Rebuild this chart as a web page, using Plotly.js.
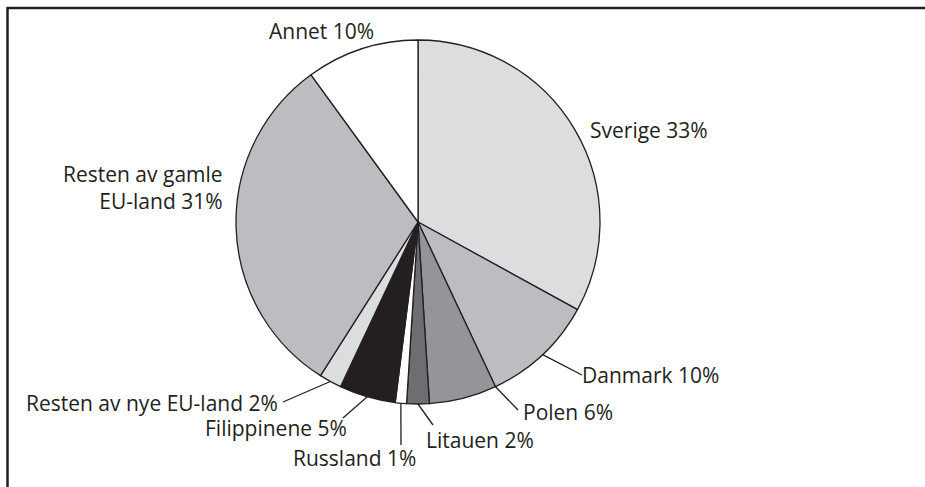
<!DOCTYPE html>
<html>
<head>
<meta charset="utf-8">
<script src="https://cdn.plot.ly/plotly-3.0.1.min.js"></script>
<style>html,body{margin:0;padding:0;background:#fff;}#chart{width:925px;height:487px;}</style>
</head>
<body>
<div id="chart"></div>
<script>
// Data
const labels = ['Sverige', 'Danmark', 'Polen', 'Litauen', 'Russland', 'Filippinene', 'Resten av nye EU-land', 'Resten av gamle EU-land', 'Annet'];
const values = [33, 10, 6, 2, 1, 5, 2, 31, 10];
const colors = ['#dcdddf', '#bcbdc0', '#939598', '#6d6e71', '#ffffff', '#231f20', '#dcdddf', '#bcbdc0', '#ffffff'];

// Layout geometry (pixels)
const W = 925, H = 487;
const CX = 418, CY = 222, R = 182;
const ink = '#231f20';
const fontFam = '"Open Sans", "Noto Sans", sans-serif';
const fs = 21;

// Label placement (pixels): x, y of text, anchor, optional leader end, optional line break
const labelCfg = [
  {x: 588, y: 130, anchor: 'left'},
  {x: 580, y: 375, anchor: 'left', lineEnd: [582, 375]},
  {x: 521, y: 412, anchor: 'left', lineEnd: [518, 410], shift: -0.03},
  {x: 424, y: 440, anchor: 'left', lineEnd: [433, 425]},
  {x: 354, y: 458, anchor: 'center', lineEnd: [401, 445]},
  {x: 349, y: 428, anchor: 'right', lineEnd: [343, 418]},
  {x: 280, y: 403, anchor: 'right', lineEnd: [283, 402]},
  {x: 225, y: 188, anchor: 'right', breakAfter: 'gamle'},
  {x: 321, y: 31, anchor: 'center'}
];

const px2x = v => v / W;
const px2y = v => 1 - v / H;

const total = values.reduce((a, b) => a + b, 0);
const annotations = [];
const shapes = [];
let cum = 0;
values.forEach((v, i) => {
  const cfg = labelCfg[i];
  const midFrac = (cum + v / 2) / total + (cfg.shift || 0);
  cum += v;
  const ang = midFrac * 2 * Math.PI;
  const sx = CX + R * Math.sin(ang);
  const sy = CY - R * Math.cos(ang);
  let text = labels[i] + ' ' + values[i] + '%';
  if (cfg.breakAfter) {
    const k = text.indexOf(cfg.breakAfter) + cfg.breakAfter.length;
    text = text.slice(0, k) + '<br>' + text.slice(k + 1);
  }
  annotations.push({
    xref: 'paper', yref: 'paper',
    x: px2x(cfg.x), y: px2y(cfg.y),
    xanchor: cfg.anchor, yanchor: 'middle', align: cfg.anchor === 'center' ? 'center' : cfg.anchor,
    text: text, showarrow: false,
    font: {family: fontFam, size: fs, color: ink}
  });
  if (cfg.lineEnd) {
    shapes.push({
      type: 'line', xref: 'paper', yref: 'paper',
      x0: px2x(sx), y0: px2y(sy), x1: px2x(cfg.lineEnd[0]), y1: px2y(cfg.lineEnd[1]),
      line: {color: ink, width: 1.3}
    });
  }
});

// Frame lines (top and left)
shapes.push({type: 'line', xref: 'paper', yref: 'paper', x0: px2x(7), y0: px2y(8), x1: 1, y1: px2y(8), line: {color: ink, width: 2.5}});
shapes.push({type: 'line', xref: 'paper', yref: 'paper', x0: px2x(7.5), y0: px2y(7), x1: px2x(7.5), y1: 0, line: {color: ink, width: 2.5}});

const trace = {
  type: 'pie',
  labels: labels,
  values: values,
  sort: false,
  direction: 'clockwise',
  rotation: 0,
  textinfo: 'none',
  hoverinfo: 'label+percent',
  marker: {colors: colors, line: {color: ink, width: 1.3}},
  domain: {x: [px2x(CX - R), px2x(CX + R)], y: [px2y(CY + R), px2y(CY - R)]},
  showlegend: false
};

const layout = {
  width: W, height: H,
  margin: {l: 0, r: 0, t: 0, b: 0},
  paper_bgcolor: '#ffffff',
  showlegend: false,
  annotations: annotations,
  shapes: shapes
};

Plotly.newPlot('chart', [trace], layout, {displayModeBar: false, staticPlot: true});
</script>
</body>
</html>
